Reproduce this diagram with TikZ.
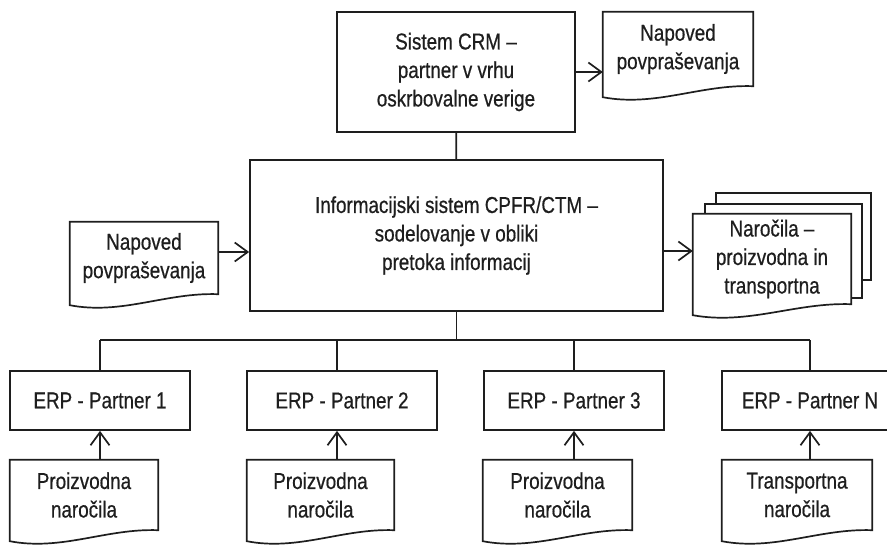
\documentclass[tikz,border=0pt]{standalone}
\usepackage{fontspec}
\setmainfont[FakeStretch=0.82,FakeBold=0.6]{Liberation Sans}
\usetikzlibrary{arrows.meta,calc,backgrounds}

\definecolor{ink}{HTML}{1E1E1E}

\tikzset{
  lbl/.style={align=center, inner sep=0pt, text=ink,
              font=\fontsize{23}{28.5}\selectfont},
  box/.style={lbl, draw=ink, line width=1.7pt, fill=white},
  docline/.style={draw=ink, line width=1.7pt, fill=white, line join=miter},
  link/.style={draw=ink, line width=1.7pt},
  flow/.style={link, -{Straight Barb[length=13pt,width=19pt,line width=1.7pt]}},
}

% document symbol: straight top and sides, wavy bottom that is lower on the left
\newcommand\docoutline[1]{%
  \path[docline] (#1.north west) -- (#1.north east) -- (#1.south east)
    .. controls ($(#1.south west)!0.65!(#1.south east)+(0pt,2pt)$)
           and ($(#1.south west)!0.35!(#1.south east)+(0pt,-21pt)$)
    .. ([yshift=-11pt]#1.south west) -- cycle;}

\begin{document}
\begin{tikzpicture}[x=1pt,y=-1pt]
  \useasboundingbox (0,0) rectangle (887,544);
  \clip (0,0) rectangle (887,544);

  % top row
  \node[box, minimum width=238pt, minimum height=120pt] (crm) at (456,72)
    {Sistem CRM --\\partner v vrhu\\oskrbovalne verige};
  \node[lbl, minimum width=150pt, minimum height=74pt] (napT) at (678,49)
    {Napoved\\povpraševanja};

  % middle row
  \node[box, minimum width=413pt, minimum height=151pt] (cpfr) at (456.5,235.5)
    {Informacijski sistem CPFR/CTM --\\sodelovanje v obliki\\pretoka informacij};
  \node[lbl, minimum width=148pt, minimum height=72pt] (napL) at (144,258)
    {Napoved\\povpraševanja};
  \node[lbl, minimum width=158pt, minimum height=90pt] (ord) at (772,259)
    {Naročila --\\proizvodna in\\transportna};

  % partner ERP systems
  \node[box, minimum width=180pt, minimum height=59pt] (e1) at (100,400.5) {ERP - Partner 1};
  \node[box, minimum width=190pt, minimum height=59pt] (e2) at (342,400.5) {ERP - Partner 2};
  \node[box, minimum width=180pt, minimum height=59pt] (e3) at (574,400.5) {ERP - Partner 3};
  \node[box, minimum width=176pt, minimum height=59pt] (e4) at (810,400.5) {ERP - Partner N};

  % order documents feeding each ERP
  \node[lbl, minimum width=148pt, minimum height=70pt] (d1) at (84,495)    {Proizvodna\\naročila};
  \node[lbl, minimum width=147pt, minimum height=70pt] (d2) at (320.5,495) {Proizvodna\\naročila};
  \node[lbl, minimum width=149pt, minimum height=70pt] (d3) at (557.5,495) {Proizvodna\\naročila};
  \node[lbl, minimum width=150pt, minimum height=70pt] (d4) at (797,495)   {Transportna\\naročila};

  \begin{scope}[on background layer]
    \docoutline{napT}
    \docoutline{napL}
    % stacked sheets behind the order document
    \path[docline] (716,193) rectangle (871,280);
    \path[docline] (705,204) rectangle (862,298);
    \docoutline{ord}
    \docoutline{d1}
    \docoutline{d2}
    \docoutline{d3}
    \docoutline{d4}
  \end{scope}

  % bus joints
  \coordinate (j1) at (100,340);
  \coordinate (j2) at (337,340);
  \coordinate (j3) at (574,340);
  \coordinate (j4) at (810,340);

  % connectors
  \draw[link] (crm) -- (cpfr);
  \draw[flow] (crm.east) -- (crm.east -| napT.west);
  \draw[flow] ([yshift=6pt]napL.east) -- ([yshift=6pt]napL.east -| cpfr.west);
  \draw[flow] ([yshift=8pt]cpfr.east |- ord.west) -- ([yshift=8pt]ord.west);
  \draw[link] (cpfr.south) -- (cpfr.south |- j1);
  \draw[link] (j1) -- (j4);
  \draw[link] (j1) -- (j1 |- e1.north);
  \draw[link] (j2) -- (j2 |- e2.north);
  \draw[link] (j3) -- (j3 |- e3.north);
  \draw[link] (j4) -- (j4 |- e4.north);
  \draw[flow] (j1 |- d1.north) -- (j1 |- e1.south);
  \draw[flow] (j2 |- d2.north) -- (j2 |- e2.south);
  \draw[flow] (j3 |- d3.north) -- (j3 |- e3.south);
  \draw[flow] (j4 |- d4.north) -- (j4 |- e4.south);
\end{tikzpicture}
\end{document}
